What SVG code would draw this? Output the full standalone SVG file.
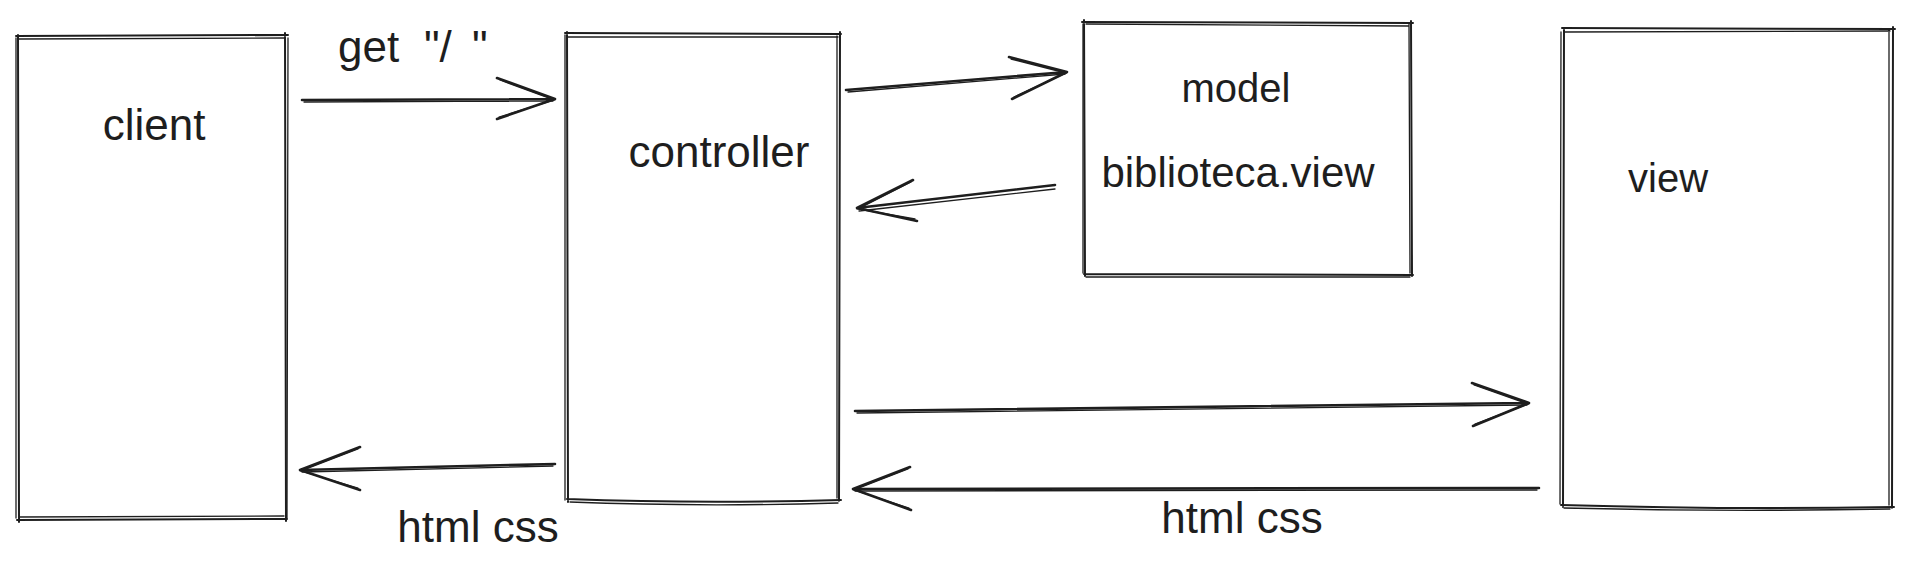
<svg xmlns="http://www.w3.org/2000/svg" width="1911" height="574" viewBox="0 0 1911 574">
<style>
  .bg { fill: #ffffff; }
  .box { fill: none; stroke: #1e1e1e; stroke-width: 2; stroke-linecap: round; }
  .box2 { fill: none; stroke: #1e1e1e; stroke-width: 1.3; stroke-linecap: round; }
  .edge { fill: none; stroke: #1e1e1e; stroke-width: 2.6; stroke-linecap: round; stroke-linejoin: round; }
  .edge2 { fill: none; stroke: #1e1e1e; stroke-width: 1.3; stroke-linecap: round; }
  .lbl { font-family: "Liberation Sans", Arial, sans-serif; fill: #1e1e1e; font-size: 40px; }
  .big { font-size: 44px; }
</style>
<rect class="bg" x="0" y="0" width="1911" height="574"/>

<g id="client">
  <path class="box" d="M16 36 L288 35 M285 33 L286 521 M287 519 L17 520 M19 522 L18 35"/>
  <path class="box2" d="M19 39 L284 38 M288 38 L287 518 M284 516 L20 517 M16 518 L16 38"/>
  <text class="lbl big" x="154" y="140" text-anchor="middle">client</text>
</g>

<g id="controller">
  <path class="box" d="M565 33 L841 34 M840 32 L839 501 M841 500 Q700 504 567 499 M568 502 L567 32"/>
  <path class="box2" d="M568 37 L838 37 M837 36 L837 498 M838 503 Q700 507 570 502 M565 500 L565 35"/>
  <text class="lbl big" x="719" y="167" text-anchor="middle">controller</text>
</g>

<g id="model">
  <path class="box" d="M1082 22 L1413 23 M1411 21 L1412 276 M1413 275 L1084 274 M1085 276 L1084 20"/>
  <path class="box2" d="M1086 24 L1409 26 M1409 24 L1410 273 M1410 277 L1086 277 M1083 273 L1083 24"/>
  <text class="lbl" x="1236" y="102" text-anchor="middle">model</text>
  <text class="lbl" x="1238" y="187" text-anchor="middle" style="font-size:42px">biblioteca.view</text>
</g>

<g id="view">
  <path class="box" d="M1562 28 L1895 29 M1893 27 L1892 508 M1894 507 Q1730 510 1561 505 M1563 507 L1564 28"/>
  <path class="box2" d="M1565 32 L1890 31 M1889 30 L1889 505 M1890 509 Q1730 512 1564 508 M1560 504 L1561 32"/>
  <text class="lbl" x="1628" y="192">view</text>
</g>

<g id="connectors">
  <!-- client -> controller -->
  <path class="edge" d="M302 100 L555 99 M497 78 L555 99 L497 119"/>
  <path class="edge2" d="M304 102 L553 101 M500 80 L554 100 L499 117"/>
  <text class="lbl big" y="62"><tspan x="338">get</tspan><tspan x="424">"/</tspan><tspan x="472">"</tspan></text>

  <!-- controller -> model -->
  <path class="edge" d="M846 90 L1067 72 M1009 57 L1067 72 L1012 99"/>
  <path class="edge2" d="M848 92 L1065 74 M1011 59 L1066 73 L1014 97"/>

  <!-- model -> controller -->
  <path class="edge" d="M1055 185 L857 208 M913 180 L857 208 L917 221"/>
  <path class="edge2" d="M1055 189 L859 211 M911 182 L858 209 L915 219"/>

  <!-- controller -> client -->
  <path class="edge" d="M555 464 L300 470 M360 447 L300 470 L360 490"/>
  <path class="edge2" d="M553 466 L302 472 M358 449 L301 471 L358 488"/>
  <text class="lbl big" x="478" y="542" text-anchor="middle">html css</text>

  <!-- controller -> view -->
  <path class="edge" d="M855 411 L1529 403 M1472 383 L1529 403 L1473 426"/>
  <path class="edge2" d="M857 413 L1527 405 M1474 385 L1528 404 L1475 424"/>

  <!-- view -> controller -->
  <path class="edge" d="M1539 488 L853 489 M910 467 L853 489 L911 510"/>
  <path class="edge2" d="M1537 490 L855 491 M908 469 L854 490 L909 508"/>
  <text class="lbl big" x="1242" y="533" text-anchor="middle">html css</text>
</g>
</svg>
